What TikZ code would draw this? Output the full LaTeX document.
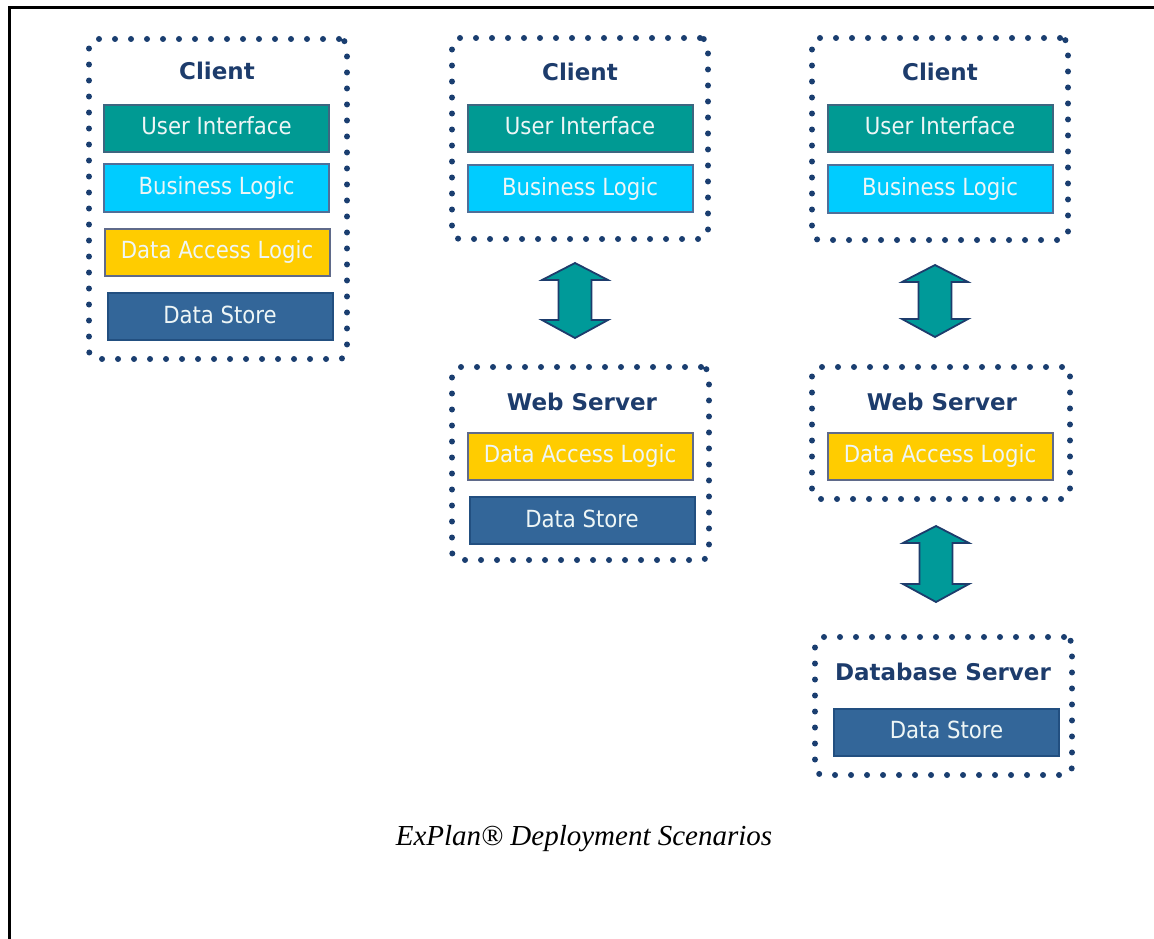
\documentclass[tikz,border=0pt]{standalone}
\usepackage{fontspec}
\usetikzlibrary{calc}
\setmainfont{Liberation Serif}
\newfontfamily\boxfont{DejaVu Sans Condensed}
\newfontfamily\headfont{DejaVu Sans}

\definecolor{dotnavy}{HTML}{1A3E70}
\definecolor{titlenavy}{HTML}{1D3C6C}
\definecolor{uifill}{HTML}{009A93}
\definecolor{uiedge}{HTML}{3D6680}
\definecolor{blfill}{HTML}{00CCFF}
\definecolor{bledge}{HTML}{4F6F99}
\definecolor{dafill}{HTML}{FFCC00}
\definecolor{daedge}{HTML}{5F6A8A}
\definecolor{dsfill}{HTML}{336699}
\definecolor{dsedge}{HTML}{224F80}
\definecolor{boxtext}{HTML}{EEF6F6}
\definecolor{arrowfill}{HTML}{009A99}

\tikzset{
  container/.style={draw=dotnavy, line width=6pt, dash pattern=on 0pt off 16pt,
    line cap=round, rounded corners=8pt, inner sep=0pt},
  tiertitle/.style={font={\headfont\bfseries\fontsize{23}{27}\selectfont},
    text=titlenavy, anchor=base, inner sep=0pt},
  layer/.style={line width=2pt, minimum width=225pt, minimum height=47pt,
    inner sep=0pt, font={\boxfont\fontsize{23.6}{28}\selectfont}, text=boxtext,
    text height=13pt, text depth=0pt},
  ui/.style={layer, fill=uifill, draw=uiedge},
  bl/.style={layer, fill=blfill, draw=bledge},
  dal/.style={layer, fill=dafill, draw=daedge},
  ds/.style={layer, fill=dsfill, draw=dsedge},
  blockarrow/.style={fill=arrowfill, draw=titlenavy, line width=1.8pt, line join=miter},
}

% vertical two-headed block arrow between two tip points
\newcommand\tealarrow[2]{%
  \path[blockarrow] let \p1=(#1), \p2=(#2) in
    (\x1,\y1) -- (\x1+33pt,\y1-17pt) -- (\x1+16.5pt,\y1-17pt)
    -- (\x1+16.5pt,\y2+18pt) -- (\x1+33pt,\y2+18pt) -- (\x2,\y2)
    -- (\x1-33pt,\y2+18pt) -- (\x1-16.5pt,\y2+18pt)
    -- (\x1-16.5pt,\y1-17pt) -- (\x1-33pt,\y1-17pt) -- cycle;}

\begin{document}
\begin{tikzpicture}[x=1pt, y=-1pt]
\useasboundingbox (0,0) rectangle (1154,939);

% page frame (top and left edges)
\draw[line width=2.5pt] (9.3,939) -- (9.3,7.7) -- (1154,7.7);

% ---- scenario 1: everything on the client
\node[container, minimum width=258pt, minimum height=320pt] (c1) at (218,199) {};
\node[tiertitle] (c1t) at (217,80) {Client};
\node[ui]  (c1ui) at (216.5,128.5) {User Interface};
\node[bl]  (c1bl) at (216.5,188) {Business Logic};
\node[dal] (c1da) at (217,252) {Data Access Logic};
\node[ds]  (c1ds) at (220,316.5) {Data Store};

% ---- scenario 2: client + web server
\node[container, minimum width=256pt, minimum height=201pt] (c2) at (580,138.5) {};
\node[tiertitle] (c2t) at (580,81) {Client};
\node[ui] (c2ui) at (580,128.5) {User Interface};
\node[bl] (c2bl) at (580,188.5) {Business Logic};

\node[container, minimum width=257pt, minimum height=193pt] (w2) at (580.5,463.5) {};
\node[tiertitle] (w2t) at (582,410) {Web Server};
\node[dal] (w2da) at (580,456) {Data Access Logic};
\node[ds]  (w2ds) at (582,520.5) {Data Store};

% ---- scenario 3: client + web server + database server
\node[container, minimum width=256pt, minimum height=202pt] (c3) at (940,139) {};
\node[tiertitle] (c3t) at (940,81) {Client};
\node[ui] (c3ui) at (940,128.5) {User Interface};
\node[bl] (c3bl) at (940,189) {Business Logic};

\node[container, minimum width=258pt, minimum height=132pt] (w3) at (941,433) {};
\node[tiertitle] (w3t) at (942,410) {Web Server};
\node[dal] (w3da) at (940,456) {Data Access Logic};

\node[container, minimum width=257pt, minimum height=138pt] (db) at (943.5,706) {};
\node[tiertitle] (dbt) at (943,680) {Database Server};
\node[ds] (dbds) at (946.5,732) {Data Store};

% ---- links between tiers
\coordinate (a1top) at ($(c2.south)+(-5,21)$);
\coordinate (a1bot) at ($(w2.north)+(-5.5,-26)$);
\coordinate (a2top) at ($(c3.south)+(-5,22)$);
\coordinate (a2bot) at ($(w3.north)+(-6,-27)$);
\coordinate (a3top) at ($(w3.south)+(-5,24)$);
\coordinate (a3bot) at ($(db.north)+(-7.5,-32)$);
\tealarrow{a1top}{a1bot}
\tealarrow{a2top}{a2bot}
\tealarrow{a3top}{a3bot}

% ---- caption
\node[anchor=base, inner sep=0pt, font={\itshape\fontsize{29}{33}\selectfont}] (cap)
  at (584,845) {ExPlan® Deployment Scenarios};
\end{tikzpicture}
\end{document}
